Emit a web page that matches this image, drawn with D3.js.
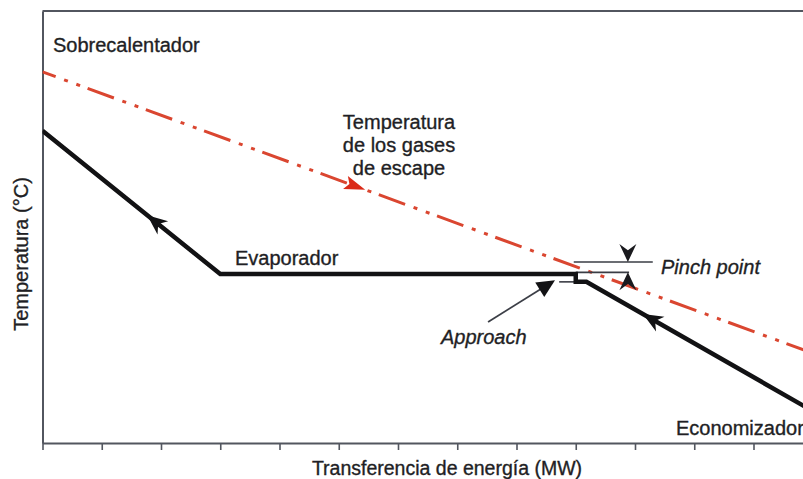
<!DOCTYPE html>
<html>
<head>
<meta charset="utf-8">
<script src="https://cdn.jsdelivr.net/npm/d3@7"></script>
<style>
  html, body { margin: 0; padding: 0; background: #fff; }
  svg { display: block; }
  text { font-family: "Liberation Sans", Arial, Helvetica, sans-serif; fill: #1f1f25; stroke: #1f1f25; stroke-width: 0.35px; }
</style>
</head>
<body>
<svg id="chart" width="803" height="479"></svg>
<script>
// ---------- data ----------
// Water / steam profile (energy transferred in MW units, temperature units)
const waterX = [0, 3.0, 9.0, 9.0, 9.18, 13.0];
const waterT = [72.3, 39.1, 39.1, 37.3, 37.3, 7.4];
// Exhaust gas profile
const gasX = [0, 13.0];
const gasT = [85.9, 20.8];
// x axis tick positions (unlabelled)
const xTicks = [0, 1, 2, 3, 4, 5, 6, 7, 8, 9, 10, 11, 12, 13];
// flow arrows: positions along each line (x value)
const waterArrowX = [1.9, 10.28];
const gasArrowX = [5.28];
// pinch / approach reference levels
const pinchGasT = 41.9;
const pinchWaterT = 39.5;
const approachT = 37.3;
// labels
const sectionLabels = ["Sobrecalentador", "Evaporador", "Economizador"];
const gasLabel = ["Temperatura", "de los gases", "de escape"];
const annotationLabels = ["Pinch point", "Approach"];
const xTitle = "Transferencia de energía (MW)";
const yTitle = "Temperatura (°C)";

// ---------- layout ----------
const W = 803, H = 479;
const svg = d3.select("#chart");
const x = d3.scaleLinear().domain([0, 13]).range([42.5, 42.5 + 13 * 59.25]);
const y = d3.scaleLinear().domain([0, 100]).range([443, 11]);

const axisColor = "#52565f";

// frame top line
svg.append("line")
  .attr("x1", x(0)).attr("x2", W)
  .attr("y1", y(100)).attr("y2", y(100))
  .attr("stroke", axisColor).attr("stroke-width", 2);

// x axis
const gx = svg.append("g").attr("transform", `translate(0,${y(0)})`)
  .call(d3.axisBottom(x).tickValues(xTicks).tickSize(7).tickSizeOuter(0).tickFormat(""));
gx.select(".domain").attr("stroke", axisColor).attr("stroke-width", 2);
gx.selectAll(".tick line").attr("stroke", axisColor).attr("stroke-width", 1.6);

// y axis
const gy = svg.append("g").attr("transform", `translate(${x(0)},0)`)
  .call(d3.axisLeft(y).tickValues([]).tickSizeOuter(0));
gy.select(".domain").attr("stroke", axisColor).attr("stroke-width", 2);

// clip region for lines (plot area up to right edge)
svg.append("clipPath").attr("id", "plotclip")
  .append("rect").attr("x", x(0)).attr("y", y(100)).attr("width", W - x(0)).attr("height", y(0) - y(100));

const line = d3.line().x(d => x(d[0])).y(d => y(d[1]));

// gas line (dash-dot-dot)
const gasPts = gasX.map((v, i) => [v, gasT[i]]);
svg.append("path")
  .attr("clip-path", "url(#plotclip)")
  .attr("d", line(gasPts))
  .attr("fill", "none")
  .attr("stroke", "#da4630")
  .attr("stroke-width", 3)
  .attr("stroke-dasharray", "28,9,4,9,4,8")
  .attr("stroke-dashoffset", 14);

// annotation lines (pinch / approach)
const thin = "#3a3d45";
svg.append("line")
  .attr("x1", x(9.0) - 2).attr("x2", x(10.3))
  .attr("y1", y(pinchGasT)).attr("y2", y(pinchGasT))
  .attr("stroke", thin).attr("stroke-width", 1.6);
svg.append("line")
  .attr("x1", x(9.0)).attr("x2", x(9.9))
  .attr("y1", y(pinchWaterT)).attr("y2", y(pinchWaterT))
  .attr("stroke", thin).attr("stroke-width", 1.6);
svg.append("line")
  .attr("x1", x(8.72)).attr("x2", x(9.0))
  .attr("y1", y(approachT)).attr("y2", y(approachT))
  .attr("stroke", thin).attr("stroke-width", 1.6);

// water line
const waterPts = waterX.map((v, i) => [v, waterT[i]]);
svg.append("path")
  .attr("clip-path", "url(#plotclip)")
  .attr("d", line(waterPts))
  .attr("fill", "none")
  .attr("stroke", "#121214")
  .attr("stroke-width", 4.5)
  .attr("stroke-linejoin", "miter");

// helper: barbed arrowhead centred at (cx,cy) pointing in angle (radians)
function arrowHead(cx, cy, ang, L, Wd, notch, color) {
  const p = `M${L/2},0 L${-L/2},${-Wd} L${-L/2 + L*notch},0 L${-L/2},${Wd} Z`;
  svg.append("path")
    .attr("d", p)
    .attr("fill", color)
    .attr("transform", `translate(${cx},${cy}) rotate(${ang * 180 / Math.PI})`);
}
function interp(xs, ts, xv) {
  for (let i = 0; i < xs.length - 1; i++) {
    if (xv >= xs[i] && xv <= xs[i + 1] && xs[i + 1] > xs[i]) {
      const f = (xv - xs[i]) / (xs[i + 1] - xs[i]);
      return { t: ts[i] + f * (ts[i + 1] - ts[i]), i };
    }
  }
  return null;
}

// water flow arrows (pointing up-left, against increasing x)
waterArrowX.forEach(xv => {
  const r = interp(waterX, waterT, xv);
  const i = r.i;
  const dx = x(waterX[i]) - x(waterX[i + 1]);
  const dy = y(waterT[i]) - y(waterT[i + 1]);
  arrowHead(x(xv), y(r.t), Math.atan2(dy, dx), 20, 8.5, 0.3, "#121214");
});

// gas flow arrow (pointing down-right)
gasArrowX.forEach(xv => {
  const r = interp(gasX, gasT, xv);
  const dx = x(gasX[1]) - x(gasX[0]);
  const dy = y(gasT[1]) - y(gasT[0]);
  arrowHead(x(xv), y(r.t), Math.atan2(dy, dx), 21, 7, 0.2, "#da2a18");
});

// pinch arrows
const pinchX = x(9.88);
arrowHead(pinchX, y(pinchGasT) - 9, Math.PI / 2, 18, 8.5, 0.35, "#1a1a1e");
arrowHead(pinchX, y(pinchWaterT) + 9, -Math.PI / 2, 18, 8.5, 0.35, "#1a1a1e");

// approach arrow
const ax0 = x(7.52), ay0 = y(28.0);
const ax1 = x(8.65), ay1 = y(37.7);
const ang = Math.atan2(ay1 - ay0, ax1 - ax0);
svg.append("line")
  .attr("x1", ax0).attr("y1", ay0)
  .attr("x2", ax1 - 12 * Math.cos(ang)).attr("y2", ay1 - 12 * Math.sin(ang))
  .attr("stroke", "#3c3f47").attr("stroke-width", 1.8);
arrowHead(ax1 - 9 * Math.cos(ang), ay1 - 9 * Math.sin(ang), ang, 18, 8.5, 0, "#121214");

// ---------- labels ----------
const fs = 20;
svg.append("text").attr("x", 53).attr("y", 52).attr("font-size", fs).text(sectionLabels[0]);
svg.append("text").attr("x", 235).attr("y", 265).attr("font-size", fs).text(sectionLabels[1]);
svg.append("text").attr("x", 676).attr("y", 435).attr("font-size", fs).text(sectionLabels[2]);

gasLabel.forEach((s, i) => {
  svg.append("text").attr("x", 399).attr("y", 129 + i * 23)
    .attr("text-anchor", "middle").attr("font-size", fs).text(s);
});

svg.append("text").attr("x", 661).attr("y", 274).attr("font-size", fs)
  .attr("font-style", "italic").text(annotationLabels[0]);
svg.append("text").attr("x", 441).attr("y", 344).attr("font-size", fs)
  .attr("font-style", "italic").text(annotationLabels[1]);

svg.append("text").attr("x", 447).attr("y", 475).attr("text-anchor", "middle")
  .attr("font-size", 19.5).text(xTitle);
svg.append("text").attr("transform", "translate(28,254) rotate(-90)")
  .attr("text-anchor", "middle").attr("font-size", fs).text(yTitle);
</script>
</body>
</html>
